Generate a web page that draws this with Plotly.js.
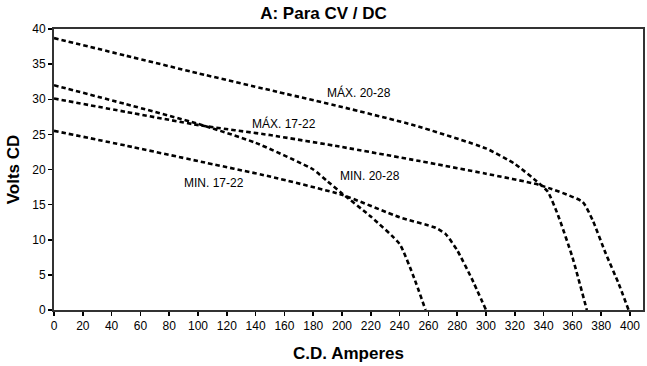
<!DOCTYPE html>
<html>
<head>
<meta charset="utf-8">
<script src="https://cdn.plot.ly/plotly-3.0.1.min.js"></script>
<style>html,body{margin:0;padding:0;background:#fff;}#chart{width:647px;height:366px;}</style>
</head>
<body>
<div id="chart"></div>
<script>
// MÁX. 20-28
const max2028_x = [0, 50, 100, 150, 200, 250, 300, 320, 337, 343, 350, 360, 370];
const max2028_y = [38.7, 36.2, 33.7, 31.3, 28.9, 26.3, 23.0, 20.8, 18.0, 16.8, 13.5, 7.5, 0];
// MÁX. 17-22
const max1722_x = [0, 50, 101, 150, 200, 254, 300, 337, 367, 374, 383, 392, 399];
const max1722_y = [30.1, 28.2, 26.3, 24.9, 23.2, 21.2, 19.4, 17.8, 15.4, 12.8, 8.1, 3.8, 0];
// MIN. 20-28
const min2028_x = [0, 50, 100, 140, 180, 190, 200, 220, 240, 250, 258];
const min2028_y = [32.0, 29.3, 26.5, 23.8, 20.0, 18.3, 16.6, 13.3, 9.4, 4.6, 0];
// MIN. 17-22
const min1722_x = [0, 50, 100, 150, 200, 240, 265, 272, 280, 290, 300];
const min1722_y = [25.5, 23.4, 21.2, 19.0, 16.4, 13.2, 11.7, 10.8, 8.5, 4.5, 0];

const labels = ['MÁX. 20-28', 'MÁX. 17-22', 'MIN. 20-28', 'MIN. 17-22'];
const labelX = [188, 136, 197, 89];
const labelY = [30.9, 26.6, 19.1, 18.1];

const xTicks = [0,20,40,60,80,100,120,140,160,180,200,220,240,260,280,300,320,340,360,380,400];
const yTicks = [0,5,10,15,20,25,30,35,40];

const series = [
  [max2028_x, max2028_y, labels[0]],
  [max1722_x, max1722_y, labels[1]],
  [min2028_x, min2028_y, labels[2]],
  [min1722_x, min1722_y, labels[3]]
];

const traces = series.map(s => ({
  x: s[0], y: s[1], name: s[2], type: 'scatter', mode: 'lines',
  line: {color: '#000', width: 2.6, dash: '4.5px,3px', shape: 'spline', smoothing: 0.5},
  hoverinfo: 'skip'
}));

const annotations = labels.map((t, i) => ({
  x: labelX[i], y: labelY[i], xref: 'x', yref: 'y', text: t, showarrow: false,
  xanchor: 'left', yanchor: 'middle',
  font: {family: 'Liberation Sans, Arial, sans-serif', size: 12, color: '#000'}
}));

const layout = {
  width: 647, height: 366,
  margin: {l: 54, r: 4, t: 29, b: 56},
  paper_bgcolor: '#fff', plot_bgcolor: '#fff',
  showlegend: false,
  font: {family: 'Liberation Sans, Arial, sans-serif', size: 12, color: '#000'},
  title: {text: 'A: Para CV / DC', x: 0.5, xref: 'container', y: 1, yref: 'container', yanchor: 'top', pad: {t: 7},
          font: {family: 'Liberation Sans, Arial, sans-serif', size: 17, color: '#000', weight: 'bold'}},
  xaxis: {
    range: [0, 409], tickvals: xTicks, ticktext: xTicks.map(String),
    ticks: 'outside', ticklen: 4, tickwidth: 1.5, tickcolor: '#000',
    showline: true, linecolor: '#333', linewidth: 2, mirror: true,
    showgrid: false, zeroline: false,
    tickfont: {size: 12, color: '#000'},
    title: {text: 'C.D. Amperes', standoff: 15, font: {size: 17, color: '#000', weight: 'bold'}}
  },
  yaxis: {
    range: [0, 40], tickvals: yTicks, ticktext: yTicks.map(String),
    ticks: 'outside', ticklen: 4, tickwidth: 1.5, tickcolor: '#000',
    showline: true, linecolor: '#333', linewidth: 2, mirror: true,
    showgrid: false, zeroline: false,
    tickfont: {size: 12, color: '#000'},
    title: {text: 'Volts CD', standoff: 8, font: {size: 17, color: '#000', weight: 'bold'}}
  },
  annotations: annotations
};

Plotly.newPlot('chart', traces, layout, {staticPlot: true, displayModeBar: false});
</script>
</body>
</html>
